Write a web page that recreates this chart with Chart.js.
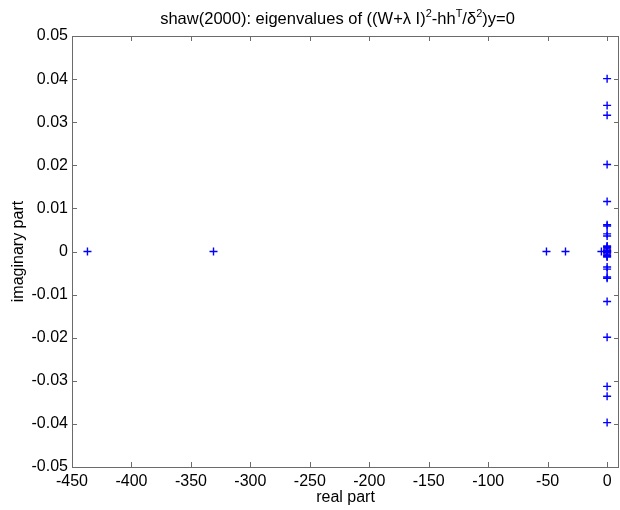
<!DOCTYPE html>
<html>
<head>
<meta charset="utf-8">
<script src="https://cdn.jsdelivr.net/npm/chart.js@4.4.1/dist/chart.umd.min.js"></script>
<style>
  html, body { margin: 0; padding: 0; background: #fff; }
  #wrap { width: 620px; height: 510px; }
</style>
</head>
<body>
<div id="wrap"><canvas id="chart"></canvas></div>
<script>
// eigenvalues: real parts and imaginary parts
const realPart = [-437, -331, -51, -35, -4.8,
    0, 0, 0, 0, 0, 0, 0, 0, 0, 0, 0,
    0, 0, 0, 0, 0, 0, 0, 0, 0, 0,
    0, 0, 0, 0, 0, 0, 0, 0, 0, 0];
const imagPart = [0, 0, 0, 0, 0,
    0.0401, 0.0339, 0.0316, 0.0202, 0.0116, 0.0062, 0.0059, 0.0041, 0.0036, 0.0013, 0.0009,
    0.0006, 0.0003, 0, -0.0003, -0.0006, -0.0009, -0.0013, -0.0036, -0.0041, -0.0059,
    -0.0062, -0.0116, -0.0199, -0.0313, -0.0336, -0.0397, 0.0011, -0.0011, 0.0002, -0.0002];
const markedReal = [0];
const markedImag = [0];

const xTicks = [-450, -400, -350, -300, -250, -200, -150, -100, -50, 0];
const yTicks = [-0.05, -0.04, -0.03, -0.02, -0.01, 0, 0.01, 0.02, 0.03, 0.04, 0.05];

const FONT = 'Arial, "Liberation Sans", Helvetica, sans-serif';
const AXIS_COLOR = '#6b6b6b';

const points = realPart.map((x, i) => ({ x, y: imagPart[i] }));
const marked = markedReal.map((x, i) => ({ x, y: markedImag[i] }));

// MATLAB style box with inward ticks on all four sides, plus the title
const boxPlugin = {
    id: 'box',
    afterDraw(chart) {
        const { ctx, chartArea: a, scales: { x, y } } = chart;
        const len = 5;
        ctx.save();
        ctx.strokeStyle = AXIS_COLOR;
        ctx.lineWidth = 1;
        ctx.strokeRect(Math.round(a.left) + 0.5, Math.round(a.top) + 0.5,
            Math.round(a.right - a.left) - 1, Math.round(a.bottom - a.top));
        ctx.beginPath();
        xTicks.forEach(v => {
            const px = Math.round(x.getPixelForValue(v)) + 0.5;
            ctx.moveTo(px, a.bottom); ctx.lineTo(px, a.bottom - len);
            ctx.moveTo(px, a.top); ctx.lineTo(px, a.top + len);
        });
        yTicks.forEach(v => {
            const py = Math.round(y.getPixelForValue(v)) + 0.5;
            ctx.moveTo(a.left, py); ctx.lineTo(a.left + len, py);
            ctx.moveTo(a.right, py); ctx.lineTo(a.right - len, py);
        });
        ctx.stroke();

        // title with superscripts
        const parts = [
            ['shaw(2000): eigenvalues of ((W+\u03bb I)', false],
            ['2', true], ['-hh', false], ['T', true], ['/\u03b4', false], ['2', true], [')y=0', false]
        ];
        const big = '16.5px ' + FONT, small = '11px ' + FONT;
        let total = 0;
        parts.forEach(([t, sup]) => { ctx.font = sup ? small : big; total += ctx.measureText(t).width; });
        let cx = (a.left + a.right) / 2 - 8 - total / 2;
        const base = 24;
        ctx.fillStyle = '#000';
        ctx.textBaseline = 'alphabetic';
        ctx.textAlign = 'left';
        parts.forEach(([t, sup]) => {
            ctx.font = sup ? small : big;
            ctx.fillText(t, cx, sup ? base - 7 : base);
            cx += ctx.measureText(t).width;
        });
        ctx.restore();
    }
};

new Chart(document.getElementById('chart'), {
    type: 'scatter',
    data: {
        datasets: [
            {
                data: points,
                pointStyle: 'cross',
                radius: 4,
                hoverRadius: 4,
                borderWidth: 1.4,
                borderColor: 'rgb(0,0,255)'
            },
            {
                data: marked,
                pointStyle: 'circle',
                radius: 3.5,
                borderWidth: 1.2,
                borderColor: 'rgb(255,0,0)',
                backgroundColor: 'rgba(0,0,0,0)'
            }
        ]
    },
    options: {
        responsive: true,
        maintainAspectRatio: false,
        animation: false,
        events: [],
        layout: { autoPadding: false, padding: { top: 36, right: 1, left: 0, bottom: 0 } },
        plugins: { legend: { display: false }, title: { display: false }, tooltip: { enabled: false } },
        scales: {
            x: {
                type: 'linear',
                min: -450,
                max: 10,
                afterBuildTicks: s => { s.ticks = xTicks.map(v => ({ value: v })); },
                afterFit: s => { s.height = 43; },
                grid: { display: false, drawTicks: false, tickLength: 0 },
                border: { display: false },
                ticks: {
                    color: '#000',
                    padding: 5,
                    maxRotation: 0,
                    autoSkip: false,
                    font: { family: FONT, size: 16 },
                    callback: v => String(v)
                },
                title: {
                    display: true,
                    text: 'real part',
                    color: '#000',
                    padding: { top: 0, bottom: 3 },
                    font: { family: FONT, size: 16 }
                }
            },
            y: {
                type: 'linear',
                min: -0.05,
                max: 0.05,
                afterBuildTicks: s => { s.ticks = yTicks.map(v => ({ value: v })); },
                afterFit: s => { s.width = 72; },
                grid: { display: false, drawTicks: false, tickLength: 0 },
                border: { display: false },
                ticks: {
                    color: '#000',
                    padding: 4,
                    autoSkip: false,
                    font: { family: FONT, size: 16 },
                    callback: v => (Math.abs(v) < 1e-9 ? '0' : String(Math.round(v * 100) / 100))
                },
                title: {
                    display: true,
                    text: 'imaginary part',
                    color: '#000',
                    padding: { top: 9, bottom: 0 },
                    font: { family: FONT, size: 16 }
                }
            }
        }
    },
    plugins: [boxPlugin]
});
</script>
</body>
</html>
